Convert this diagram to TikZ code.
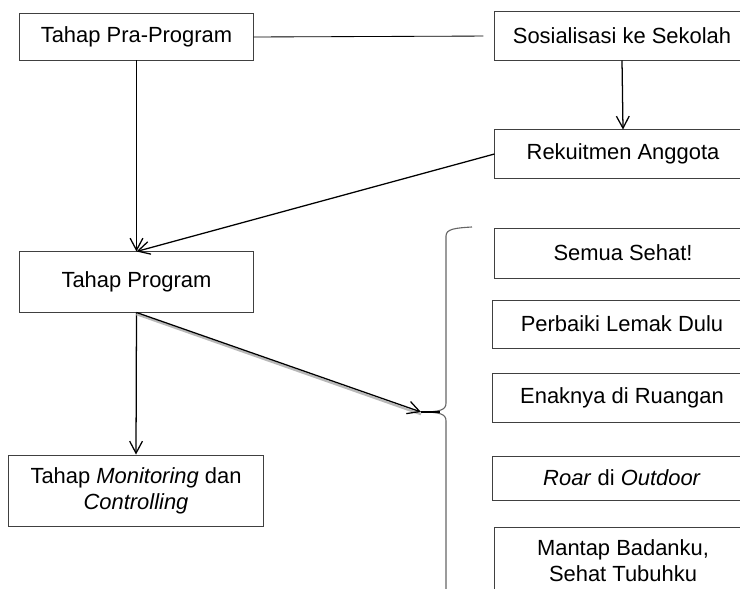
\documentclass[tikz,border=0pt]{standalone}
\usepackage{fontspec}
\setmainfont{Liberation Sans}
\usetikzlibrary{arrows.meta}

\tikzset{
  stage/.style={rectangle,draw=black!75,line width=0.7pt,align=center,
    inner sep=0pt,font=\fontsize{15.6}{18.5}\selectfont},
  flow/.style={line width=0.9pt,-{Straight Barb[length=3mm,width=3.2mm]}}
}

\begin{document}
\begin{tikzpicture}[x=0.025cm,y=-0.025cm]
  \useasboundingbox (0,0) rectangle (740,589);
  \clip (0,0) rectangle (740,589);

  % left column
  \node[stage,minimum width=5.825cm,minimum height=1.15cm] (pra) at (136.5,37) {Tahap Pra-Program};
  \node[stage,minimum width=5.825cm,minimum height=1.5cm] (prog) at (136.5,282) {Tahap Program};
  \node[stage,minimum width=6.35cm,minimum height=1.775cm] (mon) at (136,490.5)
    {Tahap \textit{Monitoring} dan\\\textit{Controlling}};

  % right column
  \node[stage,minimum width=6.35cm,minimum height=1.2cm] (sos) at (622,36) {Sosialisasi ke Sekolah};
  \node[stage,minimum width=6.4cm,minimum height=1.2cm] (rek) at (623,154) {Rekuitmen Anggota};

  \node[stage,minimum width=6.4cm,minimum height=1.25cm] (semua) at (623,253) {Semua Sehat!};
  \node[stage,minimum width=6.45cm,minimum height=1.2cm] (perbaiki) at (622,324) {Perbaiki Lemak Dulu};
  \node[stage,minimum width=6.45cm,minimum height=1.225cm] (enak) at (622,397.5) {Enaknya di Ruangan};
  \node[stage,minimum width=6.45cm,minimum height=1.1cm] (roar) at (622,478) {\textit{Roar} di \textit{Outdoor}};
  \node[stage,minimum width=6.4cm,minimum height=1.7cm] (mantap) at (623,561)
    {Mantap Badanku,\\Sehat Tubuhku};

  % brace round the activities
  \coordinate (tip) at (421,412);
  \draw[black!60,line width=0.8pt]
    (472,227) .. controls (455,228) and (446,229) .. (446,236) -- (446,403)
    .. controls (446,410) and (440,412) .. (tip)
    .. controls (440,412) and (446,414) .. (446,421) -- (446,590)
    .. controls (446,597) and (455,598) .. (472,599);
  \draw[line width=0.9pt] (tip) -- (440,412);

  % connectors
  \draw[line width=0.6pt,shorten >=11*0.025cm] (pra.east) -- (sos.west);
  \draw[flow] (sos.south) -- (rek.north);
  \draw[flow] (pra.south) -- (prog.north);
  \draw[flow] (rek.west) -- (prog.north);
  \draw[flow] (prog.south) -- (mon.north);
  \draw[gray!55,line width=1.6pt] ([yshift=-1.2pt]prog.south) -- ([yshift=-1.6pt]tip);
  \draw[flow] (prog.south) -- (tip);
\end{tikzpicture}
\end{document}
